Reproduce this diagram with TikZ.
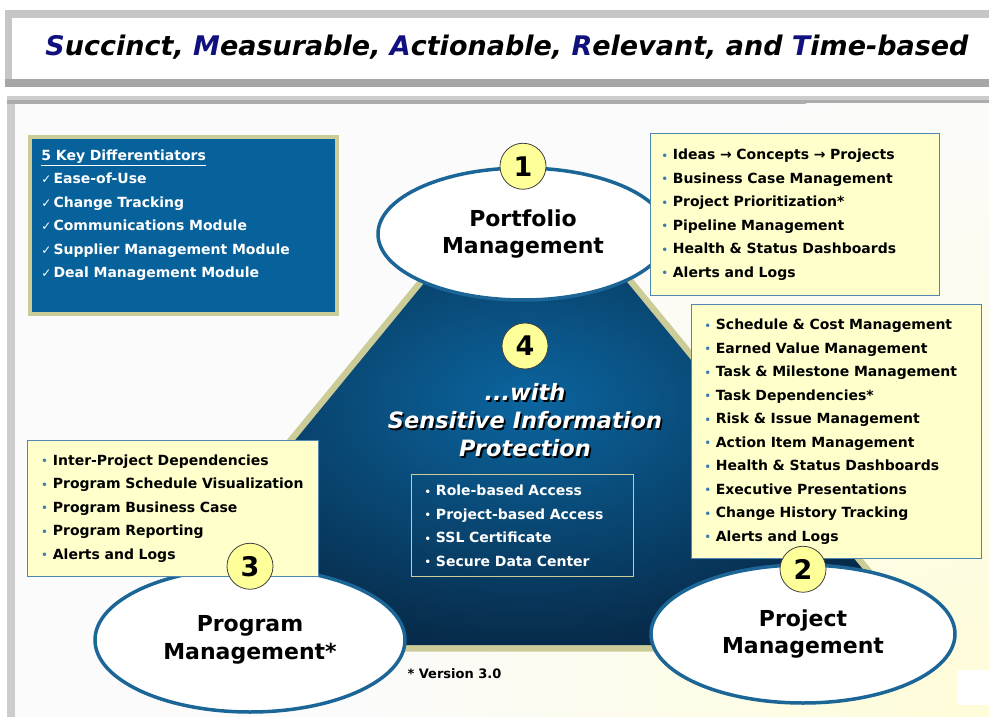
\documentclass[tikz,border=0pt]{standalone}
\usepackage{fontspec}
\setmainfont{DejaVu Sans}
\usetikzlibrary{positioning,shapes.geometric}

\definecolor{khaki}{HTML}{CCCC99}
\definecolor{diffblue}{HTML}{07619A}
\definecolor{ellblue}{HTML}{1B6597}
\definecolor{boxedge}{HTML}{4F87B3}
\definecolor{lightyel}{HTML}{FFFFCC}
\definecolor{numyel}{HTML}{FFFF99}
\definecolor{triin}{HTML}{0B659F}
\definecolor{triout}{HTML}{072B4A}
\definecolor{bulblue}{HTML}{3C7DB4}
\definecolor{titlenavy}{HTML}{10107F}
\definecolor{panelbg}{HTML}{FBFBFB}
\definecolor{glow}{HTML}{FFFCD8}

\newcommand{\ini}[1]{\textcolor{titlenavy}{#1}}
\newcommand{\blt}{{\color{bulblue}\fontsize{10}{10}\selectfont\raisebox{0.5pt}{\textbullet}}\hspace{5pt}}
\newcommand{\wblt}{{\fontsize{10}{10}\selectfont\raisebox{0.5pt}{\textbullet}}\hspace{5pt}}
\newcommand{\chk}{{\fontsize{12}{12}\selectfont ✓}\hspace{2pt}}
\newcommand{\shtxt}[1]{\rlap{\hspace{1.8pt}\raisebox{-1.8pt}{\color{black}#1}}#1}

\begin{document}
\begin{tikzpicture}[x=1pt, y=-1pt,
    listbox/.style={rectangle, draw=boxedge, line width=1pt, fill=lightyel, anchor=north west,
        align=left, inner ysep=0pt, text=black, font=\fontsize{14}{23.5}\selectfont\bfseries},
    ellnode/.style={ellipse, draw=ellblue, line width=3.5pt, fill=white, inner sep=0pt,
        align=center, font=\fontsize{22}{27.5}\selectfont\bfseries},
    numnode/.style={circle, draw=black!75, line width=0.8pt, fill=numyel, minimum size=46pt,
        inner sep=0pt, font=\fontsize{27}{27}\selectfont\bfseries}
    ]
        %Frames
        \useasboundingbox (0,0) rectangle (989,717);
        \fill[white] (0,0) rectangle (989,717);
        \fill[gray!45] (5,10) rectangle (989,87);
        \fill[gray!70] (5,79) rectangle (989,87);
        \fill[white] (12,18) rectangle (989,79);
        \fill[gray!40] (7,96) rectangle (989,717);
        \fill[gray!65] (7,100) rectangle (989,104);
        \fill[panelbg] (15,104) rectangle (989,717);
        \begin{scope}
            \clip (15,104) rectangle (989,717);
            \shade[inner color=glow, outer color=panelbg] (989,717) circle (640);
        \end{scope}
        \fill[white] (957,670) rectangle (989,705);

        %Title
        \node[font=\fontsize{27}{27}\selectfont\bfseries\itshape] (ttl) at (507,47)
            {\ini{S}uccinct, \ini{M}easurable, \ini{A}ctionable, \ini{R}elevant, and \ini{T}ime-based};

        %Triangle
        \draw[khaki, line width=13pt, line join=round] (526,159) -- (127,645) -- (925,645) -- cycle;
        \shade[inner color=triin, outer color=triout] (526,159) -- (127,645) -- (925,645) -- cycle;

        %Differentiators
        \node[rectangle, draw=khaki, line width=4pt, fill=diffblue, anchor=north west,
            minimum width=307pt, minimum height=177pt, text width=284pt, inner xsep=11.5pt,
            align=left, text=white, font=\fontsize{14}{23.5}\selectfont\bfseries]
            (diff) at (28,135) {\underline{5 Key Differentiators}\\
                \chk Ease-of-Use\\ \chk Change Tracking\\ \chk Communications Module\\
                \chk Supplier Management Module\\ \chk Deal Management Module\\ \mbox{}};

        %Ellipses
        \node[ellnode, minimum width=290pt, minimum height=132pt]
            (pf) at (523,234) {Portfolio\\Management};
        \node[ellnode, minimum width=304pt, minimum height=138pt]
            (pj) at (803,634) {Project\\Management};
        \node[ellnode, minimum width=310pt, minimum height=144pt]
            (pg) at (250,640) {Program\\Management*};

        %Lists
        \node[listbox, minimum width=289pt, minimum height=162pt, text width=267pt, inner xsep=11pt]
            (pfl) at (650,133) {\blt Ideas → Concepts → Projects\\ \blt Business Case Management\\
                \blt Project Prioritization*\\ \blt Pipeline Management\\
                \blt Health \& Status Dashboards\\ \blt Alerts and Logs};
        \node[listbox, minimum width=290pt, minimum height=254pt, text width=264pt, inner xsep=13pt]
            (pjl) at (691,304) {\blt Schedule \& Cost Management\\ \blt Earned Value Management\\
                \blt Task \& Milestone Management\\ \blt Task Dependencies*\\
                \blt Risk \& Issue Management\\ \blt Action Item Management\\
                \blt Health \& Status Dashboards\\ \blt Executive Presentations\\
                \blt Change History Tracking\\ \blt Alerts and Logs};
        \node[listbox, minimum width=291pt, minimum height=136pt, text width=263pt, inner xsep=14pt]
            (pgl) at (27,440) {\blt Inter-Project Dependencies\\ \blt Program Schedule Visualization\\
                \blt Program Business Case\\ \blt Program Reporting\\ \blt Alerts and Logs};

        %Numbers
        \node[numnode] (n1) at (pf.north) {1};
        \node[numnode] (n2) at ([yshift=-6pt]pj.north) {2};
        \node[numnode] (n3) at (pg.north) {3};
        \node[numnode] (n4) at (525,346) {4};

        %Centre
        \node[align=center, text=white, font=\fontsize{22.5}{28}\selectfont\bfseries\itshape]
            (prot) at (525,421) {\shtxt{...with}\\\shtxt{Sensitive Information}\\\shtxt{Protection}};
        \node[rectangle, draw=khaki, line width=1.2pt, anchor=north west, minimum width=222pt,
            minimum height=102pt, text width=196pt, inner xsep=13pt, inner ysep=0pt, align=left,
            text=white, font=\fontsize{14}{23.5}\selectfont\bfseries]
            (acc) at (411,474) {\wblt Role-based Access\\ \wblt Project-based Access\\
                \wblt SSL Certificate\\ \wblt Secure Data Center};

        %Note
        \node[anchor=west, font=\fontsize{13}{13}\selectfont\bfseries] (ver) at (404,674) {* Version 3.0};
    \end{tikzpicture}
\end{document}
